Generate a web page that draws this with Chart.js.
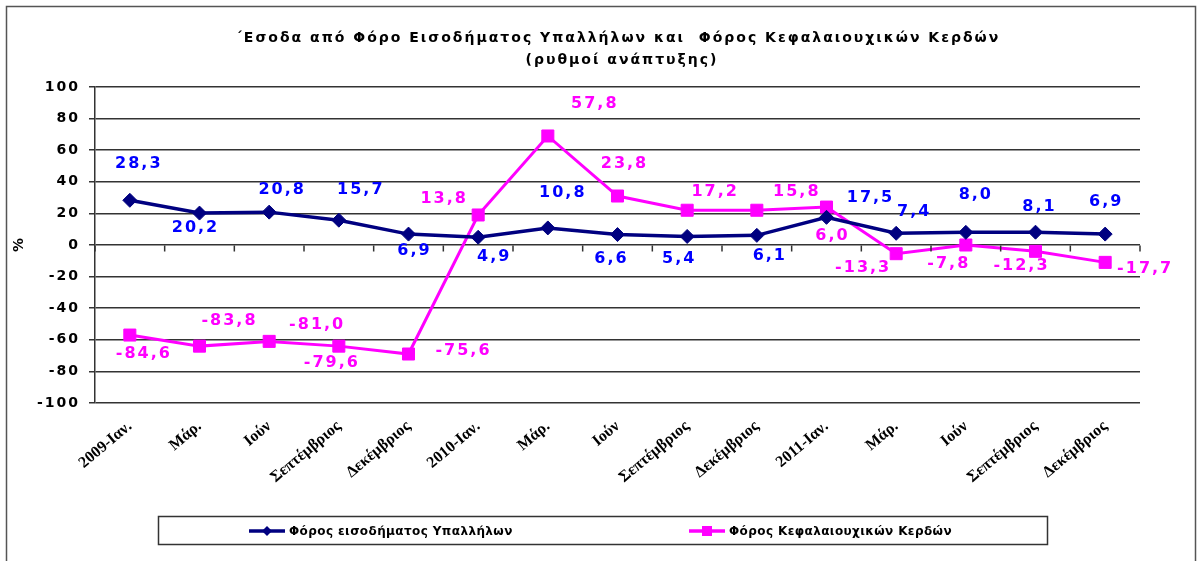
<!DOCTYPE html>
<html>
<head>
<meta charset="utf-8">
<script src="https://cdn.jsdelivr.net/npm/chart.js@4.4.1/dist/chart.umd.min.js"></script>
<style>
  html, body { margin: 0; background: #fff; }
  canvas { display: block; }
</style>
</head>
<body>
<canvas id="growthChart" width="1203" height="561"></canvas>
<script>
// --- data ---
const categories = ['2009-Ιαν.', 'Μάρ.', 'Ιούν', 'Σεπτέμβριος', 'Δεκέμβριος',
                    '2010-Ιαν.', 'Μάρ.', 'Ιούν', 'Σεπτέμβριος', 'Δεκέμβριος',
                    '2011-Ιαν.', 'Μάρ.', 'Ιούν', 'Σεπτέμβριος', 'Δεκέμβριος'];
const seriesNames = ['Φόρος εισοδήματος Υπαλλήλων', 'Φόρος Κεφαλαιουχικών Κερδών'];

// employee income tax: plotted values equal the printed labels
const employeeTax = [28.3, 20.2, 20.8, 15.7, 6.9, 4.9, 10.8, 6.6, 5.4, 6.1, 17.5, 7.4, 8.0, 8.1, 6.9];
const employeeTaxLabels = employeeTax;

// capital gains tax: where the markers sit on the axis, and the numbers printed next to them
const capitalGainsTax = [-57, -64, -61, -64, -69, 19, 69, 31, 22, 22, 24, -5.5, 0, -4, -11];
const capitalGainsLabels = [-84.6, -83.8, -81.0, -79.6, -75.6, 13.8, 57.8, 23.8, 17.2, 15.8, 6.0, -13.3, -7.8, -12.3, -17.7];

const yTicks = [100, 80, 60, 40, 20, 0, -20, -40, -60, -80, -100];

// label placement relative to each marker (px)
const employeeLabelShift = [[9,-36],[-4,15],[13,-22],[22,-30],[6,17],[16,20],[15,-35],[-6,24],
                            [-8,22],[13,20],[44,-20],[18,-21],[10,-38],[4,-25],[1,-32]];
const capitalLabelShift = [[14,19],[30,-25],[48,-17],[-7,17],[55,-3],[-34,-16],[47,-32],[7,-32],
                           [28,-18],[40,-18],[6,29],[-33,14],[-17,19],[-14,15],[40,6]];

const NAVY = '#000080', BLUE = '#0000ff', PINK = '#ff00ff', GRID = '#333';
const fmt = v => v.toFixed(1).replace('.', ',');

const decor = {
  id: 'decor',
  afterDraw(chart) {
    const { ctx, chartArea: area, scales: { x, y } } = chart;
    ctx.save();

    // outer frame
    ctx.strokeStyle = '#555';
    ctx.lineWidth = 1.5;
    ctx.strokeRect(6.5, 6.5, 1189, 620);

    // title
    ctx.fillStyle = '#000';
    ctx.textAlign = 'center';
    ctx.textBaseline = 'middle';
    ctx.font = 'bold 14px "DejaVu Sans"';
    ctx.letterSpacing = '2px';
    ctx.fillText('΄Εσοδα από Φόρο Εισοδήματος Υπαλλήλων και  Φόρος Κεφαλαιουχικών Κερδών', 618, 38);
    ctx.fillText('(ρυθμοί ανάπτυξης)', 622, 60);

    // y tick labels
    ctx.textAlign = 'right';
    ctx.font = 'bold 14px "DejaVu Sans"';
    ctx.letterSpacing = '2px';
    yTicks.forEach(v => ctx.fillText(String(v), area.left - 15, y.getPixelForValue(v)));

    // axis title
    ctx.save();
    ctx.translate(19, (area.top + area.bottom) / 2);
    ctx.rotate(-Math.PI / 2);
    ctx.textAlign = 'center';
    ctx.letterSpacing = '0px';
    ctx.fillText('%', 0, 0);
    ctx.restore();

    // tick marks along the zero line, between categories
    const y0 = Math.round(y.getPixelForValue(0)) + 0.5;
    ctx.strokeStyle = GRID;
    ctx.lineWidth = 1.5;
    ctx.beginPath();
    for (let i = 0; i <= categories.length; i++) {
      const bx = x.getPixelForValue(i) - (x.getPixelForValue(1) - x.getPixelForValue(0)) / 2;
      ctx.moveTo(bx, y0);
      ctx.lineTo(bx, y0 + 6);
    }
    ctx.stroke();

    // data labels
    ctx.textAlign = 'center';
    ctx.font = 'bold 16px "DejaVu Sans"';
    ctx.letterSpacing = '2px';
    const sets = [
      { meta: chart.getDatasetMeta(0), labels: employeeTaxLabels, shift: employeeLabelShift, color: BLUE },
      { meta: chart.getDatasetMeta(1), labels: capitalGainsLabels, shift: capitalLabelShift, color: PINK }
    ];
    sets.forEach(s => {
      ctx.fillStyle = s.color;
      s.meta.data.forEach((pt, i) => {
        ctx.fillText(fmt(s.labels[i]), pt.x + s.shift[i][0], pt.y + s.shift[i][1]);
      });
    });

    // legend
    ctx.strokeStyle = '#333';
    ctx.lineWidth = 1.5;
    ctx.strokeRect(158.5, 516.5, 889, 28);
    const ly = 531;
    const items = [
      { x: 249, color: NAVY, style: 'diamond', text: seriesNames[0] },
      { x: 689, color: PINK, style: 'square', text: seriesNames[1] }
    ];
    items.forEach(it => {
      ctx.strokeStyle = it.color;
      ctx.fillStyle = it.color;
      ctx.lineWidth = 3.5;
      ctx.beginPath();
      ctx.moveTo(it.x, ly);
      ctx.lineTo(it.x + 36, ly);
      ctx.stroke();
      const cx = it.x + 18;
      ctx.beginPath();
      if (it.style === 'diamond') {
        ctx.moveTo(cx - 5, ly); ctx.lineTo(cx, ly - 5); ctx.lineTo(cx + 5, ly); ctx.lineTo(cx, ly + 5);
      } else {
        ctx.rect(cx - 5, ly - 5, 10, 10);
      }
      ctx.fill();
      ctx.fillStyle = '#000';
      ctx.textAlign = 'left';
      ctx.font = 'bold 12px "DejaVu Sans"';
      ctx.letterSpacing = '0.4px';
      ctx.fillText(it.text, it.x + 40, ly + 1);
    });

    ctx.restore();
  }
};

new Chart(document.getElementById('growthChart'), {
  type: 'line',
  data: {
    labels: categories,
    datasets: [
      {
        label: seriesNames[0],
        data: employeeTax,
        borderColor: NAVY,
        backgroundColor: NAVY,
        borderWidth: 3.5,
        pointStyle: 'rectRot',
        pointRadius: 7,
        pointBorderWidth: 1,
        tension: 0
      },
      {
        label: seriesNames[1],
        data: capitalGainsTax,
        borderColor: PINK,
        backgroundColor: PINK,
        borderWidth: 3,
        pointStyle: 'rect',
        pointRadius: 8.5,
        pointBorderWidth: 1,
        tension: 0
      }
    ]
  },
  options: {
    responsive: false,
    animation: false,
    layout: { padding: { top: 87, right: 63, left: 0, bottom: 0 } },
    plugins: { legend: { display: false }, title: { display: false }, tooltip: { enabled: false } },
    scales: {
      x: {
        offset: true,
        grid: { display: false },
        border: { display: false },
        ticks: {
          autoSkip: false,
          maxRotation: 40,
          minRotation: 40,
          padding: 6,
          color: '#000',
          font: { family: '"Liberation Serif"', size: 16, weight: 'bold' }
        },
        afterFit(scale) { scale.height = 158; }
      },
      y: {
        min: -100,
        max: 100,
        ticks: { stepSize: 20, color: 'transparent', font: { size: 14 } },
        grid: { color: GRID, lineWidth: 1.5, tickLength: 6 },
        border: { color: GRID, width: 1.5 },
        afterFit(scale) { scale.height; scale.width = 95; }
      }
    }
  },
  plugins: [decor]
});
</script>
</body>
</html>
